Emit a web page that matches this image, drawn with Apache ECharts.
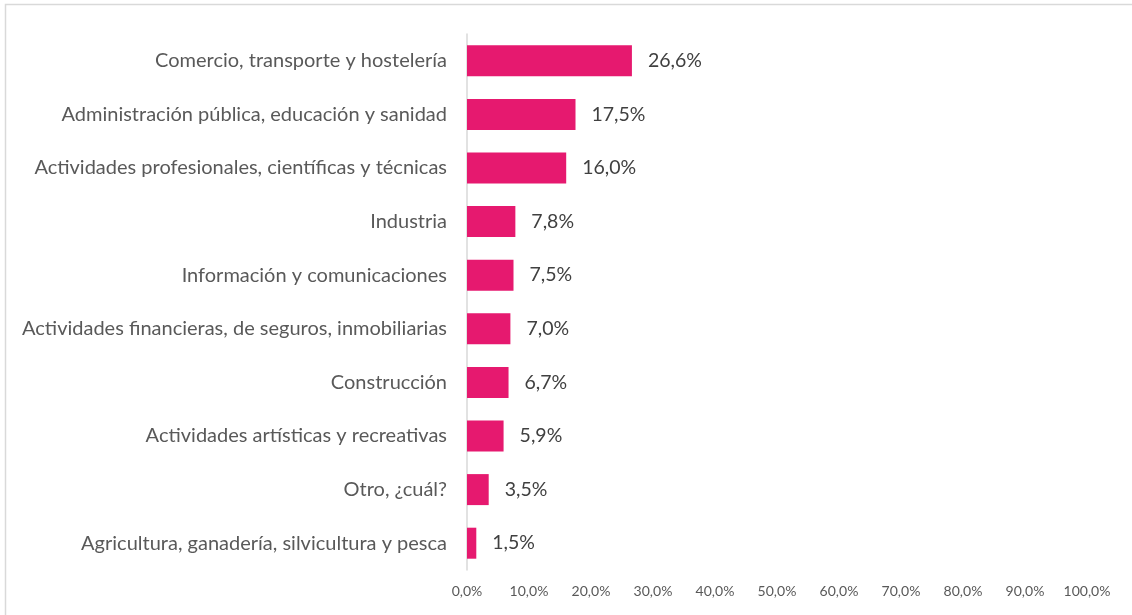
<!DOCTYPE html>
<html>
<head>
<meta charset="utf-8">
<style>
  html, body { margin: 0; padding: 0; background: #ffffff; }
  #chart { width: 1132px; height: 615px; }
</style>
<script src="https://cdn.jsdelivr.net/npm/echarts@6/dist/echarts.min.js"></script>
</head>
<body>
<div id="chart"></div>
<script>
// Sectors, listed top to bottom as drawn
const sectors = [
  'Comercio, transporte y hostelería',
  'Administración pública, educación y sanidad',
  'Actividades profesionales, científicas y técnicas',
  'Industria',
  'Información y comunicaciones',
  'Actividades financieras, de seguros, inmobiliarias',
  'Construcción',
  'Actividades artísticas y recreativas',
  'Otro, ¿cuál?',
  'Agricultura, ganadería, silvicultura y pesca'
];

// Share of respondents per sector (%)
const shares = [26.6, 17.5, 16.0, 7.8, 7.5, 7.0, 6.7, 5.9, 3.5, 1.5];

// Value axis ticks
const axisMin = 0;
const axisMax = 100;
const axisStep = 10;

const fmt = v => v.toFixed(1).replace('.', ',') + '%';

const chart = echarts.init(document.getElementById('chart'), null, { renderer: 'canvas' });

chart.setOption({
  animation: false,
  backgroundColor: '#ffffff',
  textStyle: { fontFamily: 'Lato, "Open Sans", sans-serif' },
  graphic: [{
    type: 'rect',
    shape: { x: 5.5, y: 4.5, width: 1200, height: 700 },
    style: { fill: 'none', stroke: '#d9d9d9', lineWidth: 1.5 },
    silent: true
  }],
  grid: { left: 467, right: 45, top: 34, bottom: 45, containLabel: false },
  xAxis: {
    type: 'value',
    min: axisMin,
    max: axisMax,
    interval: axisStep,
    axisLine: { show: false },
    axisTick: { show: false },
    splitLine: { show: false },
    axisLabel: {
      color: '#595959',
      fontSize: 14,
      margin: 14,
      formatter: v => fmt(v)
    }
  },
  yAxis: {
    type: 'category',
    inverse: true,
    data: sectors,
    axisLine: { show: true, lineStyle: { color: '#d9d9d9', width: 1.5 } },
    axisTick: { show: false },
    axisLabel: {
      color: '#595959',
      fontSize: 20,
      margin: 20
    }
  },
  series: [{
    type: 'bar',
    data: shares,
    barWidth: 31,
    itemStyle: { color: '#e6196f' },
    label: {
      show: true,
      position: 'right',
      distance: 16,
      color: '#404040',
      fontSize: 19.5,
      formatter: p => fmt(p.value)
    }
  }]
});
</script>
</body>
</html>
